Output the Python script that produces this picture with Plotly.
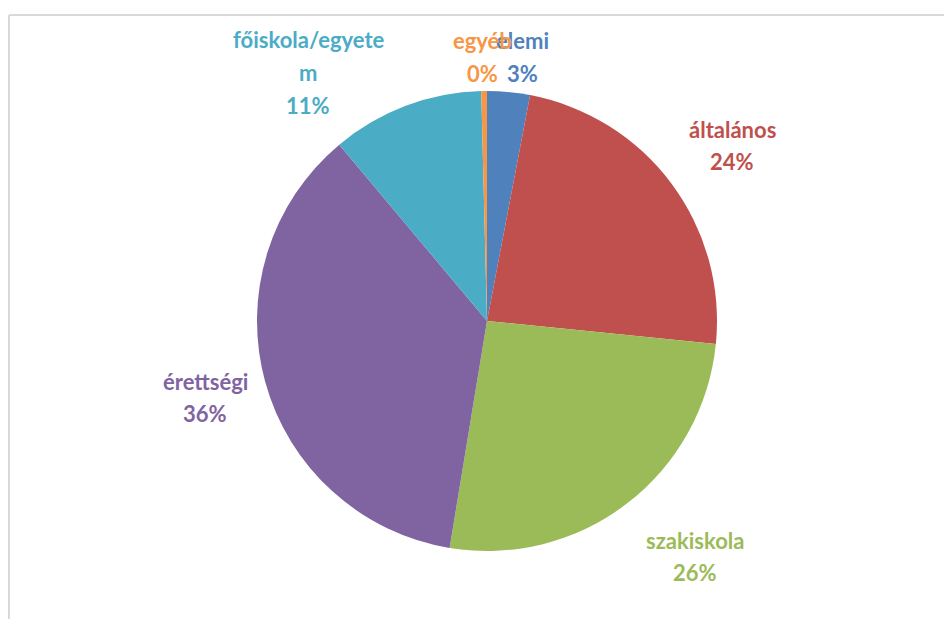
import plotly.graph_objects as go

# ---- data ----
categories = ["elemi", "általános", "szakiskola", "érettségi", "főiskola/egyetem", "egyéb"]
values = [3.0, 23.6, 26.0, 36.3, 10.7, 0.4]
colors = ["#4F81BD", "#C0504D", "#9BBB59", "#8064A2", "#4BACC6", "#F79646"]
# wrapped label lines as shown in the chart
label_lines = [["elemi"], ["általános"], ["szakiskola"], ["érettségi"], ["főiskola/egyete", "m"], ["egyéb"]]

# ---- layout constants (page pixels; the page body has an 8px margin) ----
OFF = 8
W, H = 952 - OFF, 619 - OFF
CX, CY, R = 487 - OFF, 321 - OFF, 230
# label block positions (page pixel centre x, first-line centre y)
label_pos = [(522, 41), (732, 129), (695, 540), (205, 381), (308, 40), (482, 41)]
LINE_H = 32.5
FONT = "Lato, 'Open Sans', sans-serif"
FSIZE = 22

fig = go.Figure(go.Pie(
    labels=categories,
    values=values,
    sort=False,
    direction="clockwise",
    rotation=0,
    marker=dict(colors=colors, line=dict(width=0)),
    textinfo="none",
    hoverinfo="label+percent",
    showlegend=False,
    domain=dict(x=[(CX - R) / W, (CX + R) / W], y=[(H - CY - R) / H, (H - CY + R) / H]),
))

total = sum(values)
annotations = []
for cat_lines, v, col, (px, py) in zip(label_lines, values, colors, label_pos):
    lines = cat_lines + [f"{round(v / total * 100)}%"]
    for i, t in enumerate(lines):
        annotations.append(dict(
            x=(px - OFF) / W, y=1 - (py - OFF + i * LINE_H) / H, xref="paper", yref="paper",
            text=f"<b>{t}</b>", showarrow=False, xanchor="center", yanchor="middle",
            font=dict(family=FONT, size=FSIZE, color=col),
        ))

top_y = 1 - (15 - OFF) / H
left_x = 1 / W
shapes = [
    dict(type="line", xref="paper", yref="paper", x0=left_x, x1=1, y0=top_y, y1=top_y,
         line=dict(color="#D9D9D9", width=2)),
    dict(type="line", xref="paper", yref="paper", x0=left_x, x1=left_x, y0=0, y1=top_y,
         line=dict(color="#D9D9D9", width=2)),
]

fig.update_layout(
    width=W, height=H,
    margin=dict(l=0, r=0, t=0, b=0),
    paper_bgcolor="white", plot_bgcolor="white",
    annotations=annotations, shapes=shapes,
)

fig.write_html("out.html")
